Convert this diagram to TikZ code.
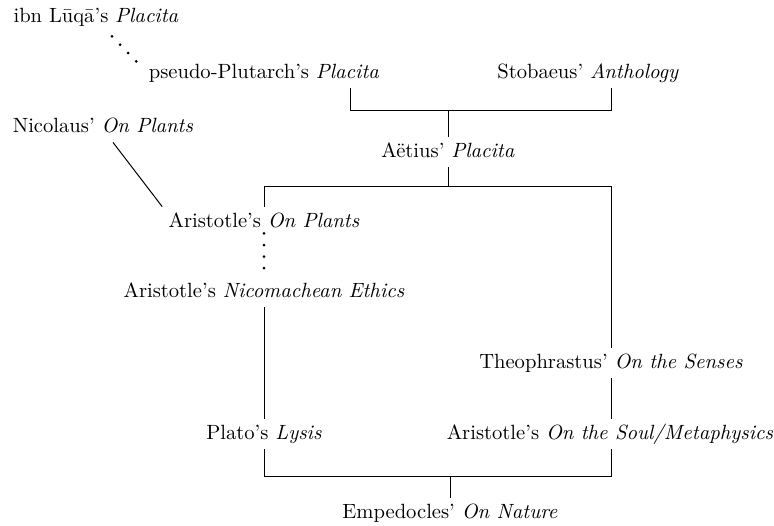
\documentclass[tikz,border=0pt]{standalone}
\usepackage{tikz}
\usetikzlibrary{positioning}
\tikzset{titre/.style={inner sep=3pt,text height=7pt,text depth=2pt,font=\fontsize{10.3pt}{12pt}\selectfont}}
\tikzset{plein/.style={line width=0.5pt}}
\tikzset{pointille/.style={line width=1.5pt,line cap=round,dash pattern=on 0pt off 5.8pt}}

\begin{document}
\begin{tikzpicture}[x=0.5pt,y=-0.5pt]
\useasboundingbox (0,0) rectangle (774,525);
\node(Ibn) at (96,17) [titre] {ibn Lūqā's \emph{Placita}};
\node(Pseudo) at (264,73) [titre] {pseudo-Plutarch's \emph{Placita}};
\node(Stob) at (588,73) [titre] {Stobaeus' \emph{Anthology}};
\node(Nic) at (103,127) [titre] {Nicolaus' \emph{On Plants}};
\node(Aet) at (448,152) [titre] {Aëtius' \emph{Placita}};
\node(Arpl) at (264,222) [titre] {Aristotle's \emph{On Plants}};
\node(Arne) at (264,292) [titre] {Aristotle's \emph{Nicomachean Ethics}};
\node(Theo) at (611,363) [titre] {Theophrastus' \emph{On the Senses}};
\node(Lysis) at (264,434) [titre] {Plato's \emph{Lysis}};
\node(Soul) at (610,434) [titre] {Aristotle's \emph{On the Soul/Metaphysics}};
\node(Emp) at (450,513) [titre] {Empedocles' \emph{On Nature}};

\coordinate(pl) at (350,110);
\coordinate(an) at (611,110);
\coordinate(j1) at (448,110);
\coordinate(tl) at (264,186);
\coordinate(tr) at (611,186);
\coordinate(am) at (448,186);
\coordinate(bm) at (450,476);

\draw[pointille] ([xshift=8pt,yshift=-2pt]Ibn.south) -- ([xshift=-3pt,yshift=-2pt]Pseudo.north west);
\draw[plein] ([xshift=5pt]Nic.south) -- (Arpl.north west);
\draw[plein] (Pseudo.south -| pl) -- (pl) -- (an) -- (Stob.south -| an);
\draw[plein] (j1) -- (Aet);
\draw[plein] (Aet) -- (am);
\draw[plein] (Arpl) -- (tl) -- (tr) -- (Theo);
\draw[plein] (Theo) -- (Soul.north -| tr);
\draw[pointille] ([yshift=2pt]Arpl.south) -- ([yshift=-1.5pt]Arne.north);
\draw[plein] (Arne) -- (Lysis);
\draw[plein] (Lysis) |- (bm) -| (Soul.south -| tr);
\draw[plein] (bm) -- (Emp);
\end{tikzpicture}
\end{document}
